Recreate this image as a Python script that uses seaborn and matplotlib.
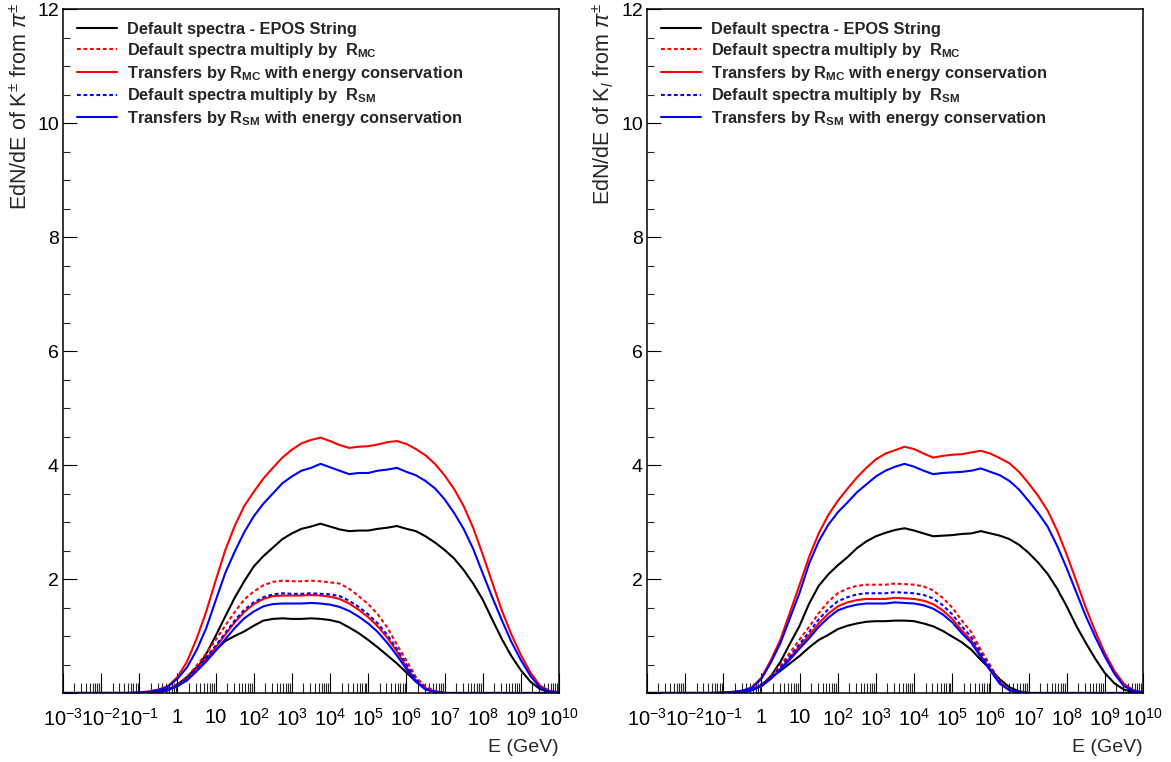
import numpy as np
import matplotlib
matplotlib.use("Agg")
import matplotlib.pyplot as plt
import seaborn as sns
from matplotlib.lines import Line2D
from matplotlib.ticker import FixedLocator, FixedFormatter

sns.set_theme(style="white")
plt.rcParams['font.family'] = ['Liberation Sans', 'DejaVu Sans']
plt.rcParams['mathtext.fontset'] = 'custom'
plt.rcParams['mathtext.rm'] = 'Liberation Sans'
plt.rcParams['mathtext.it'] = 'Liberation Sans:italic'
plt.rcParams['mathtext.bf'] = 'Liberation Sans:bold'
plt.rcParams['mathtext.sf'] = 'Liberation Sans'

# ---------------- data ----------------
LOG_E = [-3.0, -2.75, -2.5, -2.25, -2.0, -1.75, -1.5, -1.25, -1.0, -0.75, -0.5, -0.25,
         0.0, 0.25, 0.5, 0.75, 1.0, 1.25, 1.5, 1.75, 2.0, 2.25, 2.5, 2.75,
         3.0, 3.25, 3.5, 3.75, 4.0, 4.25, 4.5, 4.75, 5.0, 5.25, 5.5, 5.75,
         6.0, 6.25, 6.5, 6.75, 7.0, 7.25, 7.5, 7.75, 8.0, 8.25, 8.5, 8.75,
         9.0, 9.25, 9.5, 9.75, 10.0]

Z8 = [0] * 8
Z10 = [0] * 10
Z13 = [0] * 13

# Left panel (K+- from pi+-)
L_black_broad = Z8 + [0.00, 0.01, 0.03, 0.07, 0.12, 0.24, 0.42, 0.68, 1.00, 1.34, 1.67, 1.96,
                      2.22, 2.40, 2.55, 2.70, 2.80, 2.88, 2.92, 2.97, 2.92, 2.87, 2.84, 2.85,
                      2.85, 2.88, 2.90, 2.93, 2.88, 2.84, 2.75, 2.64, 2.51, 2.36, 2.16, 1.92,
                      1.64, 1.29, 0.95, 0.65, 0.40, 0.20, 0.07, 0.02, 0.00]
L_red_T_broad = Z8 + [0.01, 0.03, 0.06, 0.12, 0.28, 0.55, 0.95, 1.42, 1.97, 2.50, 2.93, 3.28,
                      3.53, 3.76, 3.95, 4.13, 4.27, 4.38, 4.44, 4.48, 4.42, 4.35, 4.30, 4.32,
                      4.33, 4.36, 4.40, 4.42, 4.37, 4.28, 4.17, 4.02, 3.82, 3.58, 3.28, 2.90,
                      2.43, 1.94, 1.45, 1.03, 0.67, 0.36, 0.13, 0.04, 0.01]
L_blue_T_broad = Z8 + [0.01, 0.02, 0.05, 0.11, 0.25, 0.45, 0.75, 1.13, 1.62, 2.10, 2.48, 2.82,
                       3.10, 3.32, 3.50, 3.68, 3.80, 3.90, 3.95, 4.02, 3.96, 3.90, 3.84, 3.86,
                       3.86, 3.90, 3.92, 3.95, 3.88, 3.82, 3.72, 3.59, 3.40, 3.16, 2.88, 2.53,
                       2.10, 1.68, 1.28, 0.90, 0.58, 0.30, 0.10, 0.03, 0.01]
L_red_D = Z10 + [0.02, 0.06, 0.14, 0.28, 0.48, 0.69, 0.93, 1.18, 1.42, 1.64, 1.78, 1.89, 1.95, 1.97,
                 1.96, 1.96, 1.97, 1.96, 1.94, 1.92, 1.83, 1.70, 1.56, 1.38, 1.15, 0.85,
                 0.57, 0.28, 0.11, 0.04] + Z13
L_blue_D = Z10 + [0.02, 0.05, 0.13, 0.25, 0.43, 0.62, 0.83, 1.05, 1.27, 1.46, 1.59, 1.68, 1.73, 1.75,
                  1.74, 1.74, 1.75, 1.74, 1.73, 1.70, 1.62, 1.51, 1.38, 1.22, 1.02, 0.77,
                  0.50, 0.24, 0.08, 0.02] + Z13
L_red_T = Z10 + [0.02, 0.05, 0.13, 0.24, 0.42, 0.60, 0.80, 1.02, 1.24, 1.42, 1.56, 1.65, 1.70, 1.71,
                 1.71, 1.71, 1.72, 1.71, 1.69, 1.65, 1.57, 1.46, 1.33, 1.17, 0.97, 0.73,
                 0.46, 0.22, 0.07, 0.02] + Z13
L_blue_T = Z10 + [0.02, 0.05, 0.12, 0.22, 0.38, 0.55, 0.74, 0.94, 1.14, 1.31, 1.43, 1.52, 1.56, 1.57,
                  1.57, 1.57, 1.58, 1.57, 1.55, 1.51, 1.44, 1.34, 1.22, 1.07, 0.88, 0.66,
                  0.42, 0.20, 0.06, 0.02] + Z13
L_black_N = Z10 + [0.02, 0.05, 0.15, 0.28, 0.45, 0.59, 0.75, 0.91, 1.00, 1.08, 1.18, 1.27, 1.30, 1.31,
                   1.30, 1.30, 1.31, 1.30, 1.28, 1.24, 1.15, 1.05, 0.93, 0.80, 0.66, 0.52,
                   0.36, 0.20, 0.08, 0.02] + Z13

# Right panel (K_l from pi+-)
R_black_broad = Z10 + [0.02, 0.05, 0.13, 0.30, 0.55, 0.87, 1.18, 1.57, 1.88, 2.08,
                       2.24, 2.38, 2.54, 2.66, 2.75, 2.81, 2.86, 2.89, 2.85, 2.80, 2.75, 2.76,
                       2.77, 2.79, 2.80, 2.84, 2.80, 2.76, 2.70, 2.60, 2.46, 2.29, 2.09, 1.83,
                       1.52, 1.18, 0.88, 0.60, 0.35, 0.17, 0.06, 0.02, 0.00]
R_red_T_broad = Z8 + [0.01, 0.02, 0.04, 0.10, 0.27, 0.58, 0.94, 1.42, 1.90, 2.39, 2.80, 3.12,
                      3.37, 3.58, 3.78, 3.95, 4.10, 4.20, 4.26, 4.32, 4.28, 4.20, 4.13, 4.16,
                      4.18, 4.19, 4.22, 4.25, 4.20, 4.12, 4.03, 3.88, 3.68, 3.46, 3.20, 2.85,
                      2.43, 1.97, 1.50, 1.08, 0.70, 0.39, 0.16, 0.05, 0.01]
R_blue_T_broad = Z8 + [0.01, 0.02, 0.04, 0.09, 0.25, 0.54, 0.88, 1.32, 1.76, 2.27, 2.66, 2.95,
                       3.17, 3.34, 3.52, 3.66, 3.80, 3.90, 3.97, 4.02, 3.97, 3.90, 3.84, 3.86,
                       3.87, 3.88, 3.90, 3.94, 3.88, 3.82, 3.72, 3.57, 3.37, 3.16, 2.92, 2.58,
                       2.19, 1.77, 1.35, 0.98, 0.64, 0.34, 0.12, 0.04, 0.01]
R_red_D = Z10 + [0.02, 0.07, 0.14, 0.30, 0.49, 0.71, 0.94, 1.16, 1.40, 1.60, 1.75, 1.83, 1.88, 1.90,
                 1.90, 1.90, 1.92, 1.91, 1.90, 1.87, 1.80, 1.67, 1.50, 1.27, 1.07, 0.76,
                 0.48, 0.20, 0.06, 0.02] + Z13
R_blue_D = Z10 + [0.02, 0.06, 0.13, 0.28, 0.45, 0.65, 0.86, 1.07, 1.29, 1.47, 1.61, 1.68, 1.73, 1.75,
                  1.75, 1.75, 1.77, 1.76, 1.75, 1.72, 1.66, 1.54, 1.38, 1.17, 0.98, 0.70,
                  0.44, 0.18, 0.05, 0.02] + Z13
R_red_T = Z10 + [0.02, 0.06, 0.12, 0.26, 0.43, 0.62, 0.82, 1.01, 1.22, 1.39, 1.52, 1.59, 1.63, 1.65,
                 1.65, 1.65, 1.67, 1.66, 1.65, 1.62, 1.56, 1.45, 1.30, 1.10, 0.92, 0.66,
                 0.41, 0.17, 0.05, 0.01] + Z13
R_blue_T = Z10 + [0.02, 0.05, 0.12, 0.25, 0.41, 0.59, 0.78, 0.96, 1.16, 1.32, 1.45, 1.51, 1.55, 1.57,
                  1.57, 1.57, 1.59, 1.58, 1.57, 1.54, 1.48, 1.38, 1.24, 1.05, 0.88, 0.63,
                  0.39, 0.16, 0.05, 0.01] + Z13
R_black_N = Z10 + [0.02, 0.06, 0.14, 0.27, 0.39, 0.52, 0.65, 0.80, 0.93, 1.02, 1.12, 1.18, 1.22, 1.25,
                   1.26, 1.26, 1.27, 1.27, 1.26, 1.22, 1.17, 1.09, 0.99, 0.89, 0.76, 0.58,
                   0.42, 0.24, 0.10, 0.03] + Z13

X_TICK_EXP = list(range(-3, 11))
X_TICK_LABELS = [r"$10^{-3}$", r"$10^{-2}$", r"$10^{-1}$", "1", "10", r"$10^{2}$", r"$10^{3}$",
                 r"$10^{4}$", r"$10^{5}$", r"$10^{6}$", r"$10^{7}$", r"$10^{8}$", r"$10^{9}$",
                 r"$10^{10}$"]
Y_TICKS = [0, 2, 4, 6, 8, 10, 12]
Y_TICK_LABELS = ["", "2", "4", "6", "8", "10", "12"]

LEGEND_LABELS = ["Default spectra - EPOS String",
                 r"Default spectra multiply by  $\mathbf{R_{MC}}$",
                 r"Transfers by $\mathbf{R_{MC}}$ with energy conservation",
                 r"Default spectra multiply by  $\mathbf{R_{SM}}$",
                 r"Transfers by $\mathbf{R_{SM}}$ with energy conservation"]

YLABELS = [r"EdN/dE of K$^{\pm}$ from $\pi^{\pm}$", r"EdN/dE of K$_{l}$ from $\pi^{\pm}$"]

# ---------------- styling ----------------
BLACK, RED, BLUE = "#000000", "#ff0000", "#0000ff"
DASH = (0, (1.8, 1.3))
LW = 1.5

E = 10.0 ** np.array(LOG_E)

panels = [
    [(L_black_broad, BLACK, "-"), (L_black_N, BLACK, "-"),
     (L_red_D, RED, DASH), (L_red_T_broad, RED, "-"), (L_red_T, RED, "-"),
     (L_blue_D, BLUE, DASH), (L_blue_T_broad, BLUE, "-"), (L_blue_T, BLUE, "-")],
    [(R_black_broad, BLACK, "-"), (R_black_N, BLACK, "-"),
     (R_red_D, RED, DASH), (R_red_T_broad, RED, "-"), (R_red_T, RED, "-"),
     (R_blue_D, BLUE, DASH), (R_blue_T_broad, BLUE, "-"), (R_blue_T, BLUE, "-")],
]

W, H = 1171, 762
fig = plt.figure(figsize=(W / 100, H / 100), dpi=100)
fig.patch.set_facecolor("white")

ax_left_px = [63, 647]
ax_w_px = 496
ax_top_px, ax_bot_px = 9, 693

minor_pos = [m * 10.0 ** k for k in range(-3, 10) for m in range(2, 10)]

for i, curves in enumerate(panels):
    ax = fig.add_axes([ax_left_px[i] / W, (H - ax_bot_px) / H, ax_w_px / W,
                       (ax_bot_px - ax_top_px) / H])
    ax.set_facecolor("white")
    for vals, col, ls in curves:
        sns.lineplot(x=E, y=vals, ax=ax, color=col, linestyle=ls, linewidth=LW,
                     legend=False, sort=True)
    ax.set_xscale("log")
    ax.set_xlim(1e-3, 1e10)
    ax.set_ylim(0, 12)

    ax.xaxis.set_major_locator(FixedLocator([10.0 ** k for k in X_TICK_EXP]))
    ax.xaxis.set_major_formatter(FixedFormatter(X_TICK_LABELS))
    ax.xaxis.set_minor_locator(FixedLocator(minor_pos))
    ax.xaxis.set_minor_formatter(FixedFormatter([""] * len(minor_pos)))
    ax.yaxis.set_major_locator(FixedLocator(Y_TICKS))
    ax.yaxis.set_major_formatter(FixedFormatter(Y_TICK_LABELS))
    ax.yaxis.set_minor_locator(FixedLocator([v * 0.5 for v in range(0, 25)]))

    ax.tick_params(axis="x", which="major", direction="in", length=14.5, width=0.8,
                   bottom=True, top=False, labelsize=14.5, pad=11, colors="black")
    ax.tick_params(axis="x", which="minor", direction="in", length=7.2, width=0.8,
                   bottom=True, top=False)
    ax.tick_params(axis="y", which="major", direction="in", length=10, width=0.8,
                   left=True, right=False, labelsize=14, pad=3, colors="black")
    ax.tick_params(axis="y", which="minor", direction="in", length=5, width=0.8,
                   left=True, right=False)
    for sp in ax.spines.values():
        sp.set_visible(True)
        sp.set_color("black")
        sp.set_linewidth(1.1)

    ax.set_xlabel("E (GeV)", fontsize=14, loc="right", labelpad=6)
    ax.set_ylabel(YLABELS[i], fontsize=15.5, loc="top")
    ax.yaxis.set_label_coords(-0.062, 1.01)

    handles = [Line2D([], [], color=BLACK, lw=LW, ls="-"),
               Line2D([], [], color=RED, lw=LW, ls=DASH),
               Line2D([], [], color=RED, lw=LW, ls="-"),
               Line2D([], [], color=BLUE, lw=LW, ls=DASH),
               Line2D([], [], color=BLUE, lw=LW, ls="-")]
    ax.legend(handles, LEGEND_LABELS, loc="upper left",
              bbox_to_anchor=(14 / ax_w_px, 1 - 13 / 684), frameon=False,
              prop={"weight": "bold", "size": 11.8}, handlelength=2.45,
              handletextpad=0.6, labelspacing=0.23, borderpad=0, borderaxespad=0)

fig.savefig("out.png", dpi=100, facecolor="white")
